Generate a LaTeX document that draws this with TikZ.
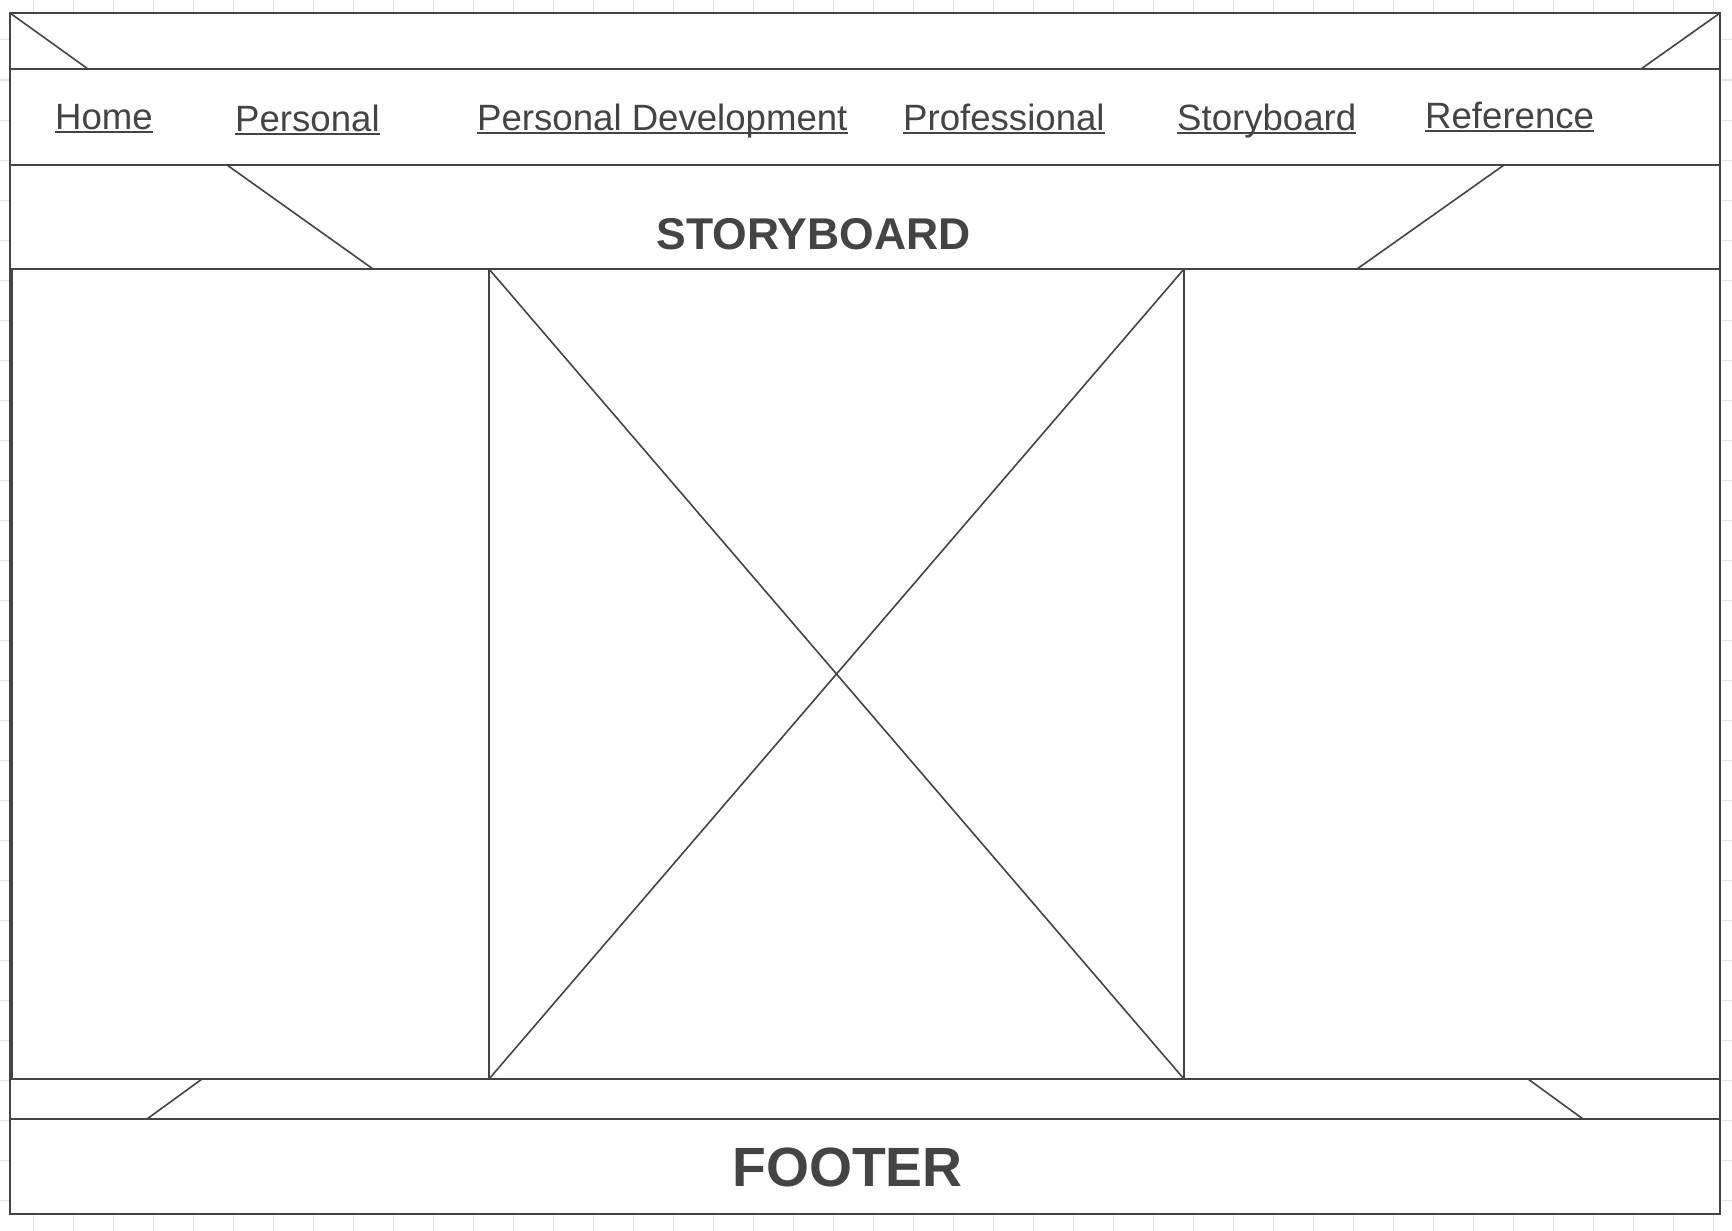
\documentclass[tikz,border=0pt]{standalone}
\usepackage{fontspec}
\setmainfont{Liberation Sans}
\definecolor{ink}{HTML}{444444}
\definecolor{gridgray}{HTML}{E4E4E4}
\begin{document}
\begin{tikzpicture}[x=1pt,y=-1pt,
  gridline/.style={draw=gridgray,line width=1pt},
  frame/.style={draw=ink,line width=2pt},
  cross/.style={draw=ink,line width=1.6pt},
  navlink/.style={font=\fontsize{36.6}{44}\selectfont,text=ink,inner sep=0pt,anchor=base west},
  uline/.style={draw=ink,line width=2.1pt},
  heading/.style={font=\bfseries\fontsize{44.5}{52}\selectfont,text=ink,inner sep=0pt,anchor=base},
  footing/.style={font=\bfseries\fontsize{55.3}{64}\selectfont,text=ink,inner sep=0pt,anchor=base}]
\useasboundingbox (0,0) rectangle (1732,1231);
\fill[white] (0,0) rectangle (1732,1231);

% background grid
\foreach \x in {33,73,...,1713} \draw[gridline] (\x,0) -- (\x,1231);
\foreach \y in {0,40,...,1231} \draw[gridline] (0,\y) -- (1732,\y);

% page outline and horizontal bands
\draw[frame,fill=white] (10,13) rectangle (1720,1214);
\draw[frame] (10,69) -- (1720,69);
\draw[frame] (10,165) -- (1720,165);
\draw[frame] (10,1119) -- (1720,1119);

% content columns
\coordinate (imgTL) at (489,269);
\coordinate (imgTR) at (1184,269);
\coordinate (imgBL) at (489,1079);
\coordinate (imgBR) at (1184,1079);
\draw[frame] (11.5,269) rectangle (imgBL);
\draw[frame] (imgTL) rectangle (imgBR);
\draw[frame] (imgTR) rectangle (1720,1079);

% image placeholder cross
\draw[cross] (imgTL) -- (imgBR);
\draw[cross] (imgTR) -- (imgBL);

% corner diagonals of the bands
\draw[cross] (10,13) -- (88,69);
\draw[cross] (1720,13) -- (1641,69);
\draw[cross] (227,165) -- (373,269);
\draw[cross] (1504,165) -- (1357,269);
\draw[cross] (147,1119) -- (202,1079);
\draw[cross] (1528,1079) -- (1583,1119);

% navigation links
\node[navlink] (home) at (55,129) {Home};
\node[navlink] (personal) at (235,131) {Personal};
\node[navlink] (persdev) at (477,130.5) {Personal Development};
\node[navlink] (prof) at (903,130) {Professional};
\node[navlink] (story) at (1177,130.5) {Storyboard};
\node[navlink] (ref) at (1425,128.5) {Reference};
\foreach \n in {home,personal,persdev,prof,story,ref}
  \draw[uline] ([yshift=-2.6pt]\n.base west) -- ([yshift=-2.6pt]\n.base east);

% headings
\node[heading] (title) at (813.5,249) {STORYBOARD};
\node[footing] (footer) at (847.5,1186) {FOOTER};
\end{tikzpicture}
\end{document}
